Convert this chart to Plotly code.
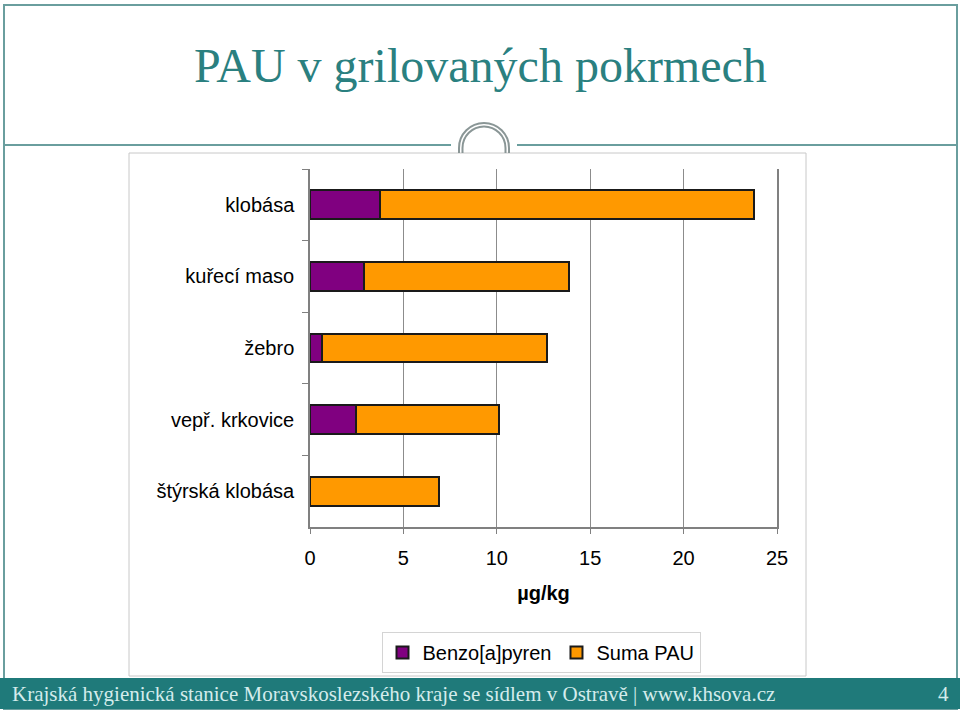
import plotly.graph_objects as go

W, H = 960, 711

# data (µg/kg), top to bottom
foods = ["klobása", "kuřecí maso", "žebro", "vepř. krkovice", "štýrská klobása"]
benzo = [3.75, 2.9, 0.66, 2.48, 0.0]
suma_pau = [20.0, 10.97, 12.02, 7.65, 6.89]

title_text = "PAU v grilovaných pokrmech"
footer_text = "Krajská hygienická stanice Moravskoslezského kraje se sídlem v Ostravě | www.khsova.cz"
page_no = "4"

TEAL = "#2A8080"
BAND = "#1F7A7A"
RING = "#8A9696"


def px(x):
    return x / W


def py(y):
    return 1 - y / H


def arc_path(cx, cy, r, ybase):
    # half circle on top of two short vertical legs, built from cubic curves
    k = 0.5523 * r
    pts = [
        ("M", [(cx - r, ybase)]),
        ("L", [(cx - r, cy)]),
        ("C", [(cx - r, cy - k), (cx - k, cy - r), (cx, cy - r)]),
        ("C", [(cx + k, cy - r), (cx + r, cy - k), (cx + r, cy)]),
        ("L", [(cx + r, ybase)]),
    ]
    out = []
    for cmd, coords in pts:
        out.append(cmd + " " + " ".join(f"{px(a):.5f},{py(b):.5f}" for a, b in coords))
    return " ".join(out)


fig = go.Figure()
fig.add_trace(
    go.Bar(
        x=benzo,
        y=foods,
        orientation="h",
        name="Benzo[a]pyren",
        marker=dict(color="#800080", line=dict(color="#1a1a1a", width=2)),
    )
)
fig.add_trace(
    go.Bar(
        x=suma_pau,
        y=foods,
        orientation="h",
        name="Suma PAU",
        marker=dict(color="#FF9900", line=dict(color="#1a1a1a", width=2)),
    )
)

shapes = [
    # slide frame
    dict(type="rect", xref="paper", yref="paper", x0=px(4), x1=px(957), y0=py(5), y1=py(709),
         line=dict(color="#6A9E9E", width=2), layer="below"),
    # title rule with a gap for the ring
    dict(type="line", xref="paper", yref="paper", x0=px(4), x1=px(451), y0=py(145), y1=py(145),
         line=dict(color="#6A9E9E", width=2), layer="below"),
    dict(type="line", xref="paper", yref="paper", x0=px(517), x1=px(957), y0=py(145), y1=py(145),
         line=dict(color="#6A9E9E", width=2), layer="below"),
    # chart box
    dict(type="rect", xref="paper", yref="paper", x0=px(129), x1=px(806), y0=py(153), y1=py(676),
         line=dict(color="#C8C8C8", width=1), fillcolor="white", layer="below"),
    # ring ornament
    dict(type="path", xref="paper", yref="paper", path=arc_path(484, 148, 25, 153),
         line=dict(color=RING, width=2), layer="below"),
    dict(type="path", xref="paper", yref="paper", path=arc_path(484, 148, 21.5, 153),
         line=dict(color=RING, width=2), layer="below"),
    # footer band
    dict(type="rect", xref="paper", yref="paper", x0=0, x1=1, y0=py(709), y1=py(678),
         line=dict(width=0), fillcolor=BAND, layer="below"),
]

annotations = [
    dict(text=title_text, x=px(480), y=py(66), xref="paper", yref="paper", showarrow=False,
         xanchor="center", yanchor="middle",
         font=dict(family="Liberation Serif", size=48, color=TEAL)),
    dict(text=footer_text, x=px(10), y=py(694), xref="paper", yref="paper", showarrow=False,
         xanchor="left", yanchor="middle",
         font=dict(family="Liberation Serif", size=21, color="#D4ECEC")),
    dict(text=page_no, x=px(943), y=py(694), xref="paper", yref="paper", showarrow=False,
         xanchor="center", yanchor="middle",
         font=dict(family="Liberation Serif", size=21, color="#D4ECEC")),
]

fig.update_layout(
    width=W,
    height=H,
    autosize=False,
    margin=dict(l=0, r=0, t=0, b=0, pad=0),
    paper_bgcolor="white",
    plot_bgcolor="#C0C0C0",
    barmode="stack",
    bargap=0.6,
    font=dict(family="Liberation Sans", size=20, color="black"),
    shapes=shapes,
    annotations=annotations,
    legend=dict(
        orientation="h",
        x=px(541),
        xanchor="center",
        y=py(632),
        yanchor="top",
        bordercolor="#D4D4D4",
        borderwidth=1,
        bgcolor="white",
        font=dict(family="Liberation Sans", size=20, color="black"),
        traceorder="normal",
    ),
    xaxis=dict(
        domain=[px(310), px(777)],
        range=[0, 25],
        dtick=5,
        automargin=False,
        showgrid=True,
        gridcolor="#8C8C8C",
        gridwidth=1,
        zeroline=False,
        showline=True,
        linecolor="#808080",
        linewidth=1.5,
        ticks="outside",
        ticklen=5,
        tickcolor="#808080",
        ticklabelstandoff=7,
        title=dict(text="<b>µg/kg</b>", font=dict(size=20), standoff=18),
        fixedrange=True,
    ),
    yaxis=dict(
        domain=[py(527), py(169)],
        autorange="reversed",
        automargin=False,
        showgrid=False,
        showline=True,
        mirror=True,
        linecolor="#808080",
        linewidth=1.5,
        ticks="outside",
        ticklen=6,
        tickcolor="#808080",
        tickson="boundaries",
        ticklabelstandoff=10,
        fixedrange=True,
    ),
)

# the page body has a default 8px margin; drop it so the figure fills the window
fig.write_html(
    "out.html",
    config={"displayModeBar": False},
    post_script="document.body.style.margin='0';",
)
